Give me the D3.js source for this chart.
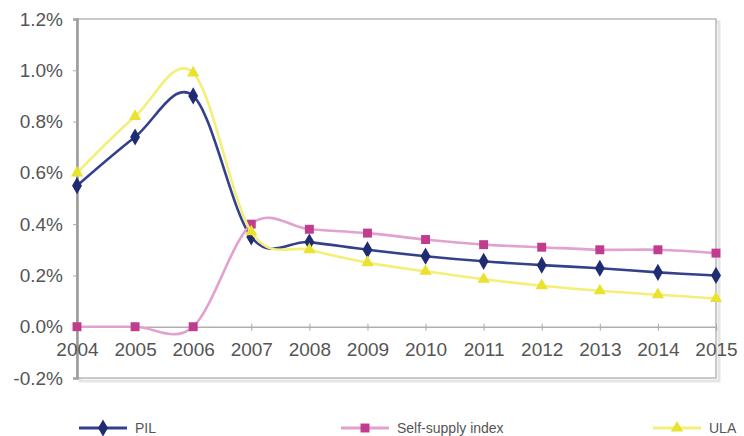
<!DOCTYPE html>
<html>
<head>
<meta charset="utf-8">
<script src="https://cdn.jsdelivr.net/npm/d3@7"></script>
<style>
  body { margin: 0; background: #fff; }
  text { font-family: "Liberation Sans", Arial, sans-serif; fill: #555; }
</style>
</head>
<body>
<div id="chart"></div>
<script>
let w = 744;
let h = 436;

// data (values in %)
let years = [2004, 2005, 2006, 2007, 2008, 2009, 2010, 2011, 2012, 2013, 2014, 2015];
let pil = [0.55, 0.74, 0.90, 0.35, 0.33, 0.30, 0.275, 0.255, 0.24, 0.228, 0.212, 0.20];
let selfSupply = [0.0, 0.0, 0.0, 0.40, 0.38, 0.365, 0.34, 0.32, 0.31, 0.30, 0.30, 0.287];
let ula = [0.60, 0.82, 0.99, 0.37, 0.30, 0.25, 0.216, 0.185, 0.16, 0.14, 0.125, 0.11];
let yTicks = [-0.2, 0, 0.2, 0.4, 0.6, 0.8, 1.0, 1.2];

let series = [
  { name: "PIL", values: pil, line: "#34408c", mark: "#202c72", symbol: d3.symbolDiamond, size: 85 },
  { name: "Self-supply index", values: selfSupply, line: "#e2a2cf", mark: "#c13b8f", symbol: d3.symbolSquare, size: 80 },
  { name: "ULA", values: ula, line: "#f3ef78", mark: "#e9e22e", symbol: d3.symbolTriangle, size: 65 }
];

let svg = d3.select("#chart").append("svg")
  .attr("width", w)
  .attr("height", h);

let xScale = d3.scaleLinear().domain([2004, 2015]).range([77, 716]);
let yScale = d3.scaleLinear().domain([-0.2, 1.2]).range([378, 19]);

// frame with a soft shadow
svg.append("rect")
  .attr("x", xScale(2004) + 3)
  .attr("y", yScale(1.2) + 3)
  .attr("width", xScale(2015) - xScale(2004))
  .attr("height", yScale(-0.2) - yScale(1.2))
  .attr("fill", "none")
  .attr("stroke", "#e4e6e6")
  .attr("stroke-width", 3);
svg.append("rect")
  .attr("x", xScale(2004))
  .attr("y", yScale(1.2))
  .attr("width", xScale(2015) - xScale(2004))
  .attr("height", yScale(-0.2) - yScale(1.2))
  .attr("fill", "#fff")
  .attr("stroke", "#b8b8b8")
  .attr("stroke-width", 1.5);

// y axis, plain hyphen for the negative label
let yAxis = d3.axisLeft(yScale)
  .tickValues(yTicks)
  .tickSize(4)
  .tickPadding(10)
  .tickFormat(d => d.toFixed(1).replace("\u2212", "-") + "%");
let gy = svg.append("g")
  .attr("transform", "translate(" + xScale(2004) + ",0)")
  .call(yAxis);
gy.select(".domain").attr("stroke", "#9a9a9a").attr("stroke-width", 2.5);
gy.selectAll(".tick line").attr("stroke", "#aaa");
gy.selectAll(".tick text").style("font-size", "19px").attr("fill", "#555");

// x axis sits on the 0% line
let xAxis = d3.axisBottom(xScale)
  .tickValues(years)
  .tickSize(4)
  .tickPadding(12)
  .tickFormat(d3.format("d"));
let gx = svg.append("g")
  .attr("transform", "translate(0," + yScale(0) + ")")
  .call(xAxis);
gx.select(".domain").attr("stroke", "#b0b0b0").attr("stroke-width", 1.5);
gx.selectAll(".tick line").attr("stroke", "#aaa").attr("y1", -3);
gx.selectAll(".tick text").style("font-size", "19px").attr("fill", "#555");

// smoothed lines like the spreadsheet
let line = d3.line()
  .x((d, i) => xScale(years[i]))
  .y(d => yScale(d))
  .curve(d3.curveCatmullRom.alpha(0));

let groups = svg.selectAll(".serie").data(series).enter()
  .append("g")
  .attr("class", "serie");

groups.append("path")
  .attr("d", d => line(d.values))
  .attr("fill", "none")
  .attr("stroke", d => d.line)
  .attr("stroke-width", 2.6);

groups.each(function(s){
  d3.select(this).selectAll("path.mark").data(s.values).enter()
    .append("path")
    .attr("class", "mark")
    .attr("transform", (d, i) => "translate(" + xScale(years[i]) + "," + yScale(d) + ")")
    .attr("d", d3.symbol().type(s.symbol).size(s.size))
    .attr("fill", s.mark);
});

// legend
let legendX = [79, 341, 653];
let legend = svg.selectAll(".legend").data(series).enter()
  .append("g")
  .attr("class", "legend")
  .attr("transform", (d, i) => "translate(" + legendX[i] + ",428)");
legend.append("line")
  .attr("x1", 0).attr("x2", 48)
  .attr("stroke", d => d.line)
  .attr("stroke-width", 3);
legend.append("path")
  .attr("transform", "translate(24,0)")
  .attr("d", d => d3.symbol().type(d.symbol).size(d.size)())
  .attr("fill", d => d.mark);
legend.append("text")
  .attr("x", 56)
  .attr("y", 5)
  .style("font-size", "14px")
  .attr("fill", "#666")
  .text(d => d.name);
</script>
</body>
</html>
